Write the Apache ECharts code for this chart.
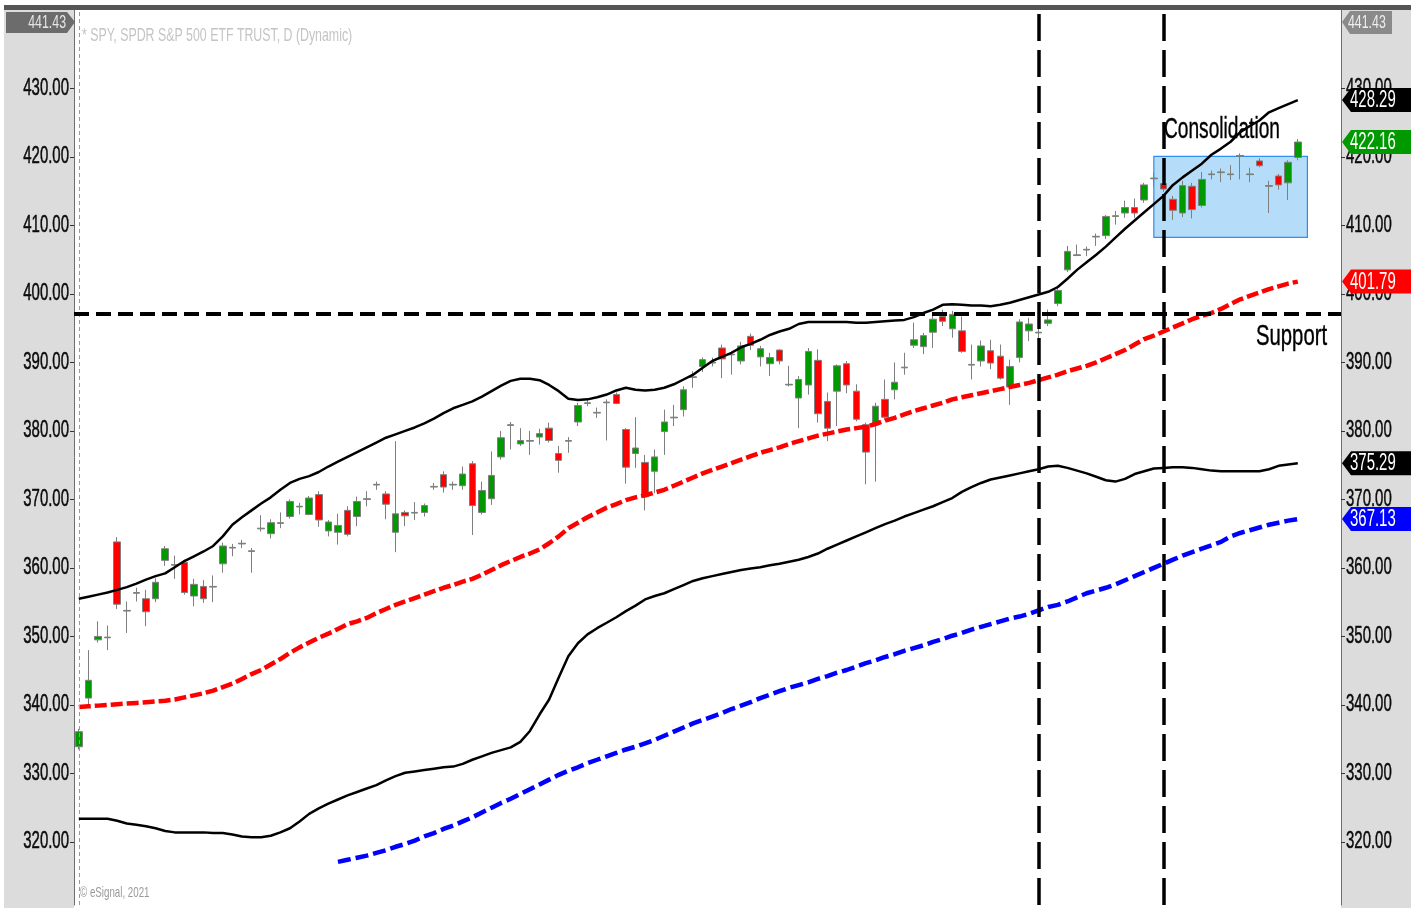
<!DOCTYPE html>
<html>
<head>
<meta charset="utf-8">
<title>SPY daily</title>
<script src="https://cdn.jsdelivr.net/npm/echarts@6.0.0/dist/echarts.min.js"></script>
<style>
  html, body { margin: 0; padding: 0; background: #fff; }
  #wrap { position: relative; width: 1415px; height: 908px; overflow: hidden; }
  .panel { position: absolute; background: #dcdcdc; }
  #chart { position: absolute; left: 0; top: 0; width: 1415px; height: 908px; }
</style>
</head>
<body>
<div id="wrap">
  <div class="panel" style="left:4px; top:10px; width:70px; height:898px;"></div>
  <div class="panel" style="left:1341px; top:10px; width:70px; height:898px;"></div>
  <div class="panel" style="left:4px; top:5px; width:1407px; height:5px; background:#555;"></div>
  <div id="chart"></div>
</div>
<script>
// daily bars, [open, high, low, close]
const ohlc = [
  [333.9,336.5,333.5,336.1],[341.0,348.0,340.0,343.6],[349.5,352.2,349.1,350.0],[349.8,351.6,348.0,349.9],[363.8,364.5,354.0,354.7],
  [353.8,355.1,350.5,353.7],[356.3,357.1,355.1,356.4],[355.5,356.8,351.5,353.6],[355.5,358.5,355.0,357.9],[361.1,363.2,360.3,362.8],
  [360.4,361.8,358.4,360.5],[360.8,361.2,356.1,356.4],[355.9,358.4,354.4,357.6],[357.3,358.2,354.9,355.5],[357.2,358.9,355.0,357.3],
  [360.6,363.7,359.3,363.2],[362.9,363.5,361.7,363.0],[363.5,364.1,362.9,363.6],[362.4,362.9,359.3,362.5],[365.7,367.7,365.3,365.8],
  [365.0,367.1,364.3,366.6],[366.5,368.1,365.8,366.6],[367.5,370.0,367.2,369.7],[368.9,369.5,367.8,369.0],[367.8,370.5,367.7,370.2],
  [370.7,371.2,366.0,367.0],[365.4,367.0,364.6,366.7],[365.2,367.9,363.4,366.2],[368.4,369.0,364.6,364.9],[367.5,370.4,366.1,369.7],
  [370.0,371.2,369.0,370.1],[372.1,372.6,371.4,372.2],[370.8,371.2,367.1,369.3],[365.2,378.5,362.3,367.9],[368.1,368.4,366.1,367.6],
  [368.0,369.6,367.0,368.1],[368.1,369.4,367.5,369.1],[371.8,372.4,371.4,371.9],[373.6,374.1,371.0,371.8],[372.1,372.6,371.4,372.2],
  [372.0,374.8,371.4,373.7],[375.2,375.6,364.8,369.1],[368.1,372.6,367.8,371.3],[370.1,377.0,369.2,373.5],[376.2,380.0,375.8,379.0],
  [380.8,381.3,377.3,380.9],[378.1,380.4,377.8,378.6],[378.5,380.0,376.5,378.6],[379.1,380.3,378.0,379.6],[380.4,381.2,378.3,378.6],
  [376.7,377.8,373.9,375.7],[378.5,379.1,376.8,378.6],[381.3,384.1,380.7,383.7],[384.0,384.6,383.6,384.1],[382.6,383.4,381.9,382.7],
  [384.1,384.6,378.6,384.2],[385.3,385.6,383.9,384.0],[380.2,380.4,372.3,374.7],[376.7,382.0,374.6,377.5],[375.4,376.5,368.4,370.4],
  [374.1,377.3,370.9,376.2],[379.9,383.1,376.5,381.3],[381.9,383.8,380.7,382.0],[383.1,386.5,382.1,386.0],[387.8,388.7,386.3,387.9],
  [389.4,390.7,388.6,390.4],[389.9,390.7,389.4,390.0],[392.1,392.6,387.7,390.5],[391.1,391.6,388.2,391.2],[390.2,393.0,389.7,392.4],
  [393.8,394.2,391.8,392.5],[390.8,392.4,389.4,392.0],[389.8,391.4,388.0,390.7],[391.8,391.9,389.7,390.2],[386.7,389.5,386.5,386.8],
  [384.8,388.0,380.4,387.5],[386.7,392.1,385.3,391.6],[390.3,391.9,381.2,382.5],[384.3,385.6,378.5,380.4],[385.8,389.7,380.7,389.5],
  [389.8,390.2,385.5,386.7],[385.8,386.8,381.4,381.7],[380.9,381.2,372.2,376.9],[380.9,384.1,372.6,383.6],[384.6,387.5,381.6,382.0],
  [386.0,390.0,384.6,387.1],[389.2,391.4,388.2,389.3],[392.5,395.8,392.1,393.3],[392.3,394.3,391.2,393.9],[394.4,397.0,392.1,396.3],
  [396.7,397.7,395.3,396.0],[394.9,397.5,393.6,397.0],[394.6,396.7,391.4,391.6],[389.6,392.6,387.5,389.7],[390.2,393.2,389.4,392.4],
  [391.7,393.3,389.0,389.9],[390.9,392.6,387.5,387.7],[386.4,390.4,383.8,389.4],[390.7,396.3,390.0,395.9],[394.6,396.5,393.1,395.6],
  [394.3,395.3,392.7,394.4],[395.7,397.7,395.3,396.2],[398.6,401.1,398.2,400.5],[403.5,407.0,403.2,406.2],[405.6,407.2,405.5,405.7],
  [406.4,406.9,405.5,406.5],[408.3,408.8,407.0,408.4],[408.5,411.5,408.0,411.3],[411.3,412.1,410.1,411.4],[411.8,413.6,411.1,412.6],
  [412.6,413.9,411.1,411.8],[413.7,416.2,413.3,415.9],[416.8,417.7,415.7,416.9],[416.1,416.6,414.9,415.3],[413.8,414.3,410.8,412.2],
  [411.8,416.5,411.2,415.8],[415.7,416.2,411.0,412.3],[412.9,417.8,412.6,416.7],[417.4,418.0,416.7,417.5],[417.7,418.3,416.3,417.8],
  [417.4,418.8,416.6,417.5],[420.1,420.5,416.7,420.2],[417.4,418.4,416.3,417.5],[419.4,419.8,418.5,418.7],[415.7,416.5,411.8,415.8],
  [417.2,417.5,415.2,415.9],[416.2,419.5,413.7,419.2],[419.9,422.6,419.5,422.16]
];

// upper black band
const upperBand = [
  355.5,355.8,356.1,356.4,356.8,357.2,357.7,358.3,358.8,359.2,
  360.1,361.0,361.7,362.4,363.2,364.6,366.3,367.4,368.4,369.4,
  370.3,371.4,372.4,373.0,373.4,374.0,374.8,375.5,376.2,376.9,
  377.6,378.3,379.0,379.5,380.0,380.5,381.1,381.8,382.6,383.3,
  383.8,384.3,385.0,385.8,386.6,387.3,387.6,387.6,387.4,386.7,
  385.8,384.7,384.5,384.6,384.9,385.3,385.9,386.3,386.0,385.9,
  386.0,386.3,386.8,387.5,388.2,389.2,390.2,390.8,391.4,392.2,
  392.7,393.3,394.0,394.5,394.9,395.6,395.9,395.9,395.9,395.9,
  395.9,395.8,395.8,395.9,396.0,396.1,396.2,396.6,397.2,397.7,
  398.4,398.5,398.4,398.3,398.3,398.2,398.4,398.7,399.1,399.5,
  399.9,400.3,401.0,402.2,403.5,404.6,405.7,406.9,408.2,409.5,
  410.7,411.9,413.1,414.3,415.9,417.0,418.0,419.0,420.3,421.2,
  422.2,423.6,424.5,425.3,426.5,427.1,427.7,428.29
];

// red dashed average
const redAvg = [
  339.7,339.8,339.9,340.0,340.1,340.2,340.3,340.4,340.5,340.6,
  340.8,341.1,341.4,341.7,342.1,342.6,343.1,343.8,344.5,345.1,
  345.9,346.7,347.6,348.4,349.1,349.8,350.4,351.1,351.8,352.2,
  352.7,353.4,354.0,354.6,355.1,355.6,356.1,356.6,357.1,357.5,
  358.0,358.4,359.0,359.7,360.4,361.0,361.6,362.1,362.7,363.6,
  364.6,365.8,366.6,367.4,368.1,368.8,369.3,369.9,370.3,370.6,
  371.0,371.4,372.0,372.6,373.2,373.8,374.3,374.8,375.3,375.8,
  376.3,376.8,377.2,377.6,378.1,378.5,378.9,379.3,379.6,379.9,
  380.2,380.4,380.6,381.0,381.5,381.9,382.4,382.9,383.3,383.7,
  384.1,384.6,384.9,385.2,385.5,385.8,386.1,386.4,386.7,387.0,
  387.4,387.8,388.2,388.7,389.1,389.5,390.0,390.6,391.2,391.8,
  392.6,393.4,393.9,394.5,395.1,395.7,396.3,396.8,397.2,397.8,
  398.5,399.2,399.7,400.2,400.7,401.1,401.5,401.79
];

// lower black band
const lowerBand = [
  323.4,323.4,323.4,323.4,323.1,322.7,322.5,322.3,322.0,321.6,
  321.4,321.4,321.4,321.4,321.3,321.3,321.1,320.8,320.7,320.7,
  320.9,321.4,322.0,323.0,324.1,324.9,325.6,326.2,326.8,327.3,
  327.8,328.3,329.0,329.6,330.1,330.3,330.5,330.7,330.9,331.0,
  331.4,332.0,332.5,333.0,333.4,333.8,334.6,336.2,338.6,340.8,
  344.0,347.1,349.0,350.3,351.2,352.0,352.8,353.7,354.5,355.4,
  355.9,356.3,356.9,357.5,358.1,358.5,358.8,359.1,359.4,359.7,
  359.9,360.1,360.4,360.6,360.9,361.2,361.6,362.1,362.8,363.4,
  364.0,364.6,365.2,365.8,366.4,366.9,367.5,368.0,368.5,369.0,
  369.6,370.2,371.1,371.8,372.4,372.9,373.2,373.5,373.8,374.1,
  374.4,374.8,374.9,374.6,374.2,373.8,373.3,372.8,372.6,373.0,
  373.7,374.1,374.5,374.6,374.7,374.7,374.6,374.4,374.2,374.1,
  374.1,374.1,374.1,374.1,374.4,374.9,375.1,375.29
];

// blue dashed average (starts later)
const blueAvg = [
  null,null,null,null,null,null,null,null,null,null,
  null,null,null,null,null,null,null,null,null,null,
  null,null,null,null,null,null,null,317.1,317.4,317.7,
  318.0,318.4,318.8,319.3,319.7,320.2,320.8,321.3,321.9,322.4,
  323.0,323.6,324.3,325.0,325.7,326.3,327.0,327.7,328.4,329.1,
  329.8,330.4,330.9,331.5,332.0,332.5,333.0,333.5,333.9,334.4,
  334.9,335.5,336.1,336.7,337.3,337.8,338.3,338.8,339.4,339.9,
  340.4,341.0,341.5,342.0,342.5,342.9,343.3,343.8,344.2,344.7,
  345.1,345.6,346.1,346.5,347.0,347.4,347.9,348.3,348.7,349.2,
  349.6,350.1,350.5,351.0,351.4,351.8,352.2,352.6,352.9,353.3,
  353.8,354.3,354.6,355.1,355.7,356.3,356.7,357.1,357.6,358.2,
  358.8,359.4,360.0,360.6,361.2,361.8,362.3,362.8,363.3,363.8,
  364.6,365.1,365.5,365.9,366.3,366.6,366.9,367.13
];

const yTicks = [320, 330, 340, 350, 360, 370, 380, 390, 400, 410, 420, 430];
const yTop = 441.43;
const yBottom = 310.8;
const supportLevel = 397.13;
const markerBars = [100, 113];
const boxBars = [112, 128];
const boxRange = [408.23, 420.07];
const emptyBars = 4; // blank space right of the last bar

const categories = ohlc.map((d, i) => String(i)).concat(
  Array.from({ length: emptyBars }, (_, k) => String(ohlc.length + k)));

const face = "'Liberation Sans', Arial, sans-serif";

let chart = echarts.init(document.getElementById('chart'));

function priceAxis(pos) {
  return {
    type: 'value',
    position: pos,
    min: yBottom,
    max: yTop,
    splitLine: { show: false },
    axisLine: { show: true, lineStyle: { color: '#6e6e6e', width: 1 } },
    axisTick: { show: true, customValues: yTicks, length: 4, lineStyle: { color: '#333' } },
    // labels are drawn below as narrow text
    axisLabel: { show: false }
  };
}

let option = {
  animation: false,
  backgroundColor: 'transparent',
  grid: { left: 74, right: 74, top: 10, bottom: 3, show: true, backgroundColor: '#fff', borderWidth: 0 },
  xAxis: {
    type: 'category',
    data: categories,
    boundaryGap: true,
    axisLine: { show: false },
    axisTick: { show: false },
    axisLabel: { show: false },
    splitLine: { show: false }
  },
  yAxis: [priceAxis('left'), priceAxis('right')],
  series: [
    {
      // holds the consolidation box and the guide lines
      type: 'line',
      data: [],
      z: 1,
      markArea: {
        silent: true,
        itemStyle: { color: '#b5dcf8', borderColor: '#2f90f0', borderWidth: 1.2 },
        data: [[{ xAxis: boxBars[0], yAxis: boxRange[1] }, { xAxis: boxBars[1], yAxis: boxRange[0] }]]
      },
      markLine: {
        silent: true,
        symbol: 'none',
        label: { show: false },
        data: [
          { xAxis: 0, lineStyle: { color: '#9a9a9a', width: 1, type: [4, 3] } },
          { yAxis: supportLevel, lineStyle: { color: '#000', width: 4, type: [15, 7] } },
          { xAxis: markerBars[0], lineStyle: { color: '#000', width: 3.5, type: [27, 9] } },
          { xAxis: markerBars[1], lineStyle: { color: '#000', width: 3.5, type: [27, 9] } }
        ]
      }
    },
    {
      type: 'candlestick',
      data: ohlc.map(d => [d[0], d[3], d[2], d[1]]),
      barWidth: 7,
      z: 3,
      itemStyle: {
        color: '#009a00',
        color0: '#ff0000',
        borderColor: '#7f7f7f',
        borderColor0: '#7f7f7f',
        borderWidth: 1
      }
    },
    {
      type: 'line', data: redAvg, symbol: 'none', z: 4,
      lineStyle: { color: '#ff0000', width: 4.5, type: [12, 4] }
    },
    {
      type: 'line', data: blueAvg, symbol: 'none', z: 4, connectNulls: false,
      lineStyle: { color: '#0000ff', width: 4.5, type: [13, 5] }
    },
    {
      type: 'line', data: upperBand, symbol: 'none', z: 5,
      lineStyle: { color: '#000', width: 2.5 }
    },
    {
      type: 'line', data: lowerBand, symbol: 'none', z: 5,
      lineStyle: { color: '#000', width: 2.5 }
    }
  ]
};

chart.setOption(option);

// tall, narrow text like the original terminal font
function narrowText(text, x, y, size, fill, align, z, squeeze, heavy) {
  let style = { text: text, fill: fill, font: size + 'px ' + face, align: align || 'left', verticalAlign: 'middle' };
  if (heavy) {
    style.stroke = fill;
    style.lineWidth = heavy;
  }
  return { type: 'text', x: x, y: y, z: z || 150, scaleX: squeeze || 0.65, style: style };
}

function priceY(v) {
  return chart.convertToPixel({ yAxisIndex: 0 }, v);
}

// price tags on the right axis, placed through the axis scale
function rightTag(value, fill) {
  let y = priceY(value);
  return {
    type: 'group',
    z: 200,
    children: [
      {
        type: 'polygon', z: 200,
        shape: { points: [[1342, y], [1351, y - 12], [1411, y - 12], [1411, y + 12], [1351, y + 12]] },
        style: { fill: fill }
      },
      narrowText(value.toFixed(2), 1350, y + 1, 23, '#fff', 'left', 201)
    ]
  };
}

let last = ohlc.length - 1;
let topY = priceY(yTop);

let graphics = [];
yTicks.forEach(v => {
  let y = priceY(v);
  graphics.push(narrowText(v.toFixed(2), 69, y, 23, '#0a0a0a', 'right', 150, 0.65, 0.5));
  graphics.push(narrowText(v.toFixed(2), 1346, y, 23, '#0a0a0a', 'left', 150, 0.65, 0.5));
});

graphics.push(
  {
    type: 'polygon', z: 200,
    shape: { points: [[6, topY + 2], [67, topY + 2], [75, topY + 12], [67, topY + 23], [6, topY + 23]] },
    style: { fill: '#6c6c6c' }
  },
  narrowText(yTop.toFixed(2), 66, topY + 13, 19, '#e6e6e6', 'right', 201),
  {
    type: 'polygon', z: 200,
    shape: { points: [[1342, topY + 12], [1350, topY + 1], [1392, topY + 1], [1392, topY + 24], [1350, topY + 24]] },
    style: { fill: '#8a8a8a' }
  },
  narrowText(yTop.toFixed(2), 1348, topY + 13, 19, '#eeeeee', 'left', 201),
  rightTag(upperBand[last], '#000000'),
  rightTag(ohlc[last][3], '#009a00'),
  rightTag(redAvg[last], '#ff0000'),
  rightTag(lowerBand[last], '#000000'),
  rightTag(blueAvg[last], '#0000ff'),
  narrowText('* SPY, SPDR S&P 500 ETF TRUST, D (Dynamic)', 82, 36, 19, '#c4c4c4', 'left', 150),
  narrowText('\u00a9 eSignal, 2021', 80, 893, 15, '#9a9a9a', 'left', 150),
  narrowText('Consolidation', 1164, 130, 29, '#000', 'left', 150, 0.66, 0.4),
  narrowText('Support', 1256, 337, 29, '#000', 'left', 150, 0.7, 0.4)
);

chart.setOption({ graphic: graphics });

window.addEventListener('resize', () => {
  chart.resize();
});
</script>
</body>
</html>
